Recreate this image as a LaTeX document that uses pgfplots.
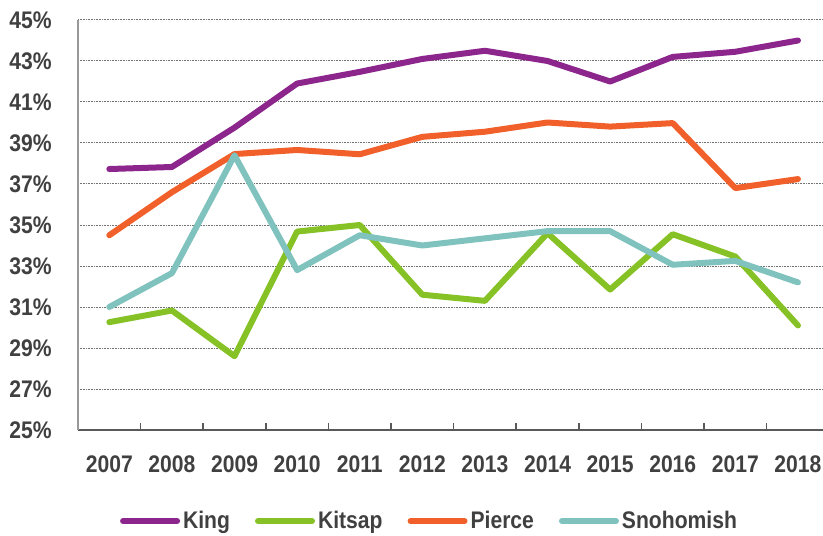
\documentclass[border=0pt]{standalone}
\usepackage{pgfplots}
\pgfplotsset{compat=1.18}
\usepackage{fontspec}
\setmainfont{Liberation Sans}[FakeStretch=0.88]
\usetikzlibrary{calc}
\definecolor{cKing}{RGB}{140,38,140}
\definecolor{cKitsap}{RGB}{134,194,38}
\definecolor{cPierce}{RGB}{241,95,42}
\definecolor{cSno}{RGB}{128,195,190}
\definecolor{txt}{RGB}{64,64,64}
\begin{document}
\begin{tikzpicture}
\begin{axis}[
  name=ax,
  scale only axis,
  width=372.5pt, height=205pt,
  xmin=-0.5, xmax=11.4,
  ymin=25, ymax=45,
  xtick={0,...,11},
  xticklabels={2007,2008,2009,2010,2011,2012,2013,2014,2015,2016,2017,2018},
  minor xtick={-0.5,0.5,...,10.5},
  ytick={25,27,...,45},
  yticklabels={25\%,27\%,29\%,31\%,33\%,35\%,37\%,39\%,41\%,43\%,45\%},
  major tick length=0pt,
  minor tick length=3.5pt,
  tick align=inside,
  minor tick style={color=black!65, line width=0.8pt},
  axis x line*=bottom,
  axis y line*=left,
  x axis line style={color=black!65, line width=1pt, -},
  y axis line style={color=black!40, line width=0.8pt, -},
  ymajorgrids,
  major grid style={color=black!55, line width=0.5pt, dash pattern=on 0.4pt off 0.4pt},
  ticklabel style={font=\bfseries\fontsize{12}{14}\selectfont, color=txt},
  xticklabel style={inner sep=0pt, anchor=north, yshift=-12.5pt},
  yticklabel style={inner sep=0pt, anchor=east, xshift=-13pt},
  clip=false,
  legend columns=4,
  legend style={draw=none, fill=none, at={(0.4725,-0.222)}, anchor=center,
    font=\bfseries\fontsize{12}{14}\selectfont, text=txt,
    nodes={inner sep=1.5pt},
    /tikz/every even column/.append style={column sep=11pt}},
  legend image code/.code={\draw[#1, line width=3pt, line cap=round] (0pt,0pt) -- (27pt,0pt);},
  every axis plot/.append style={line width=3pt, line join=round, line cap=round},
]
\addplot[cKing] coordinates {(0,37.73) (1,37.83) (2,39.75) (3,41.9) (4,42.47) (5,43.1) (6,43.5) (7,43.0) (8,42.0) (9,43.2) (10,43.45) (11,44.0)};
\addlegendentry{King}
\addplot[cKitsap] coordinates {(0,30.26) (1,30.83) (2,28.6) (3,34.68) (4,35.0) (5,31.6) (6,31.3) (7,34.6) (8,31.85) (9,34.55) (10,33.46) (11,30.1)};
\addlegendentry{Kitsap}
\addplot[cPierce] coordinates {(0,34.5) (1,36.6) (2,38.46) (3,38.66) (4,38.45) (5,39.3) (6,39.55) (7,40.0) (8,39.8) (9,39.97) (10,36.8) (11,37.24)};
\addlegendentry{Pierce}
\addplot[cSno] coordinates {(0,31.0) (1,32.65) (2,38.4) (3,32.8) (4,34.5) (5,34.0) (6,34.35) (7,34.7) (8,34.7) (9,33.06) (10,33.25) (11,32.2)};
\addlegendentry{Snohomish}
\end{axis}
\pgfresetboundingbox
\path[use as bounding box] ($(ax.south west)+(-39pt,-52.5pt)$) rectangle ($(ax.north east)+(0pt,10pt)$);
\end{tikzpicture}
\end{document}
